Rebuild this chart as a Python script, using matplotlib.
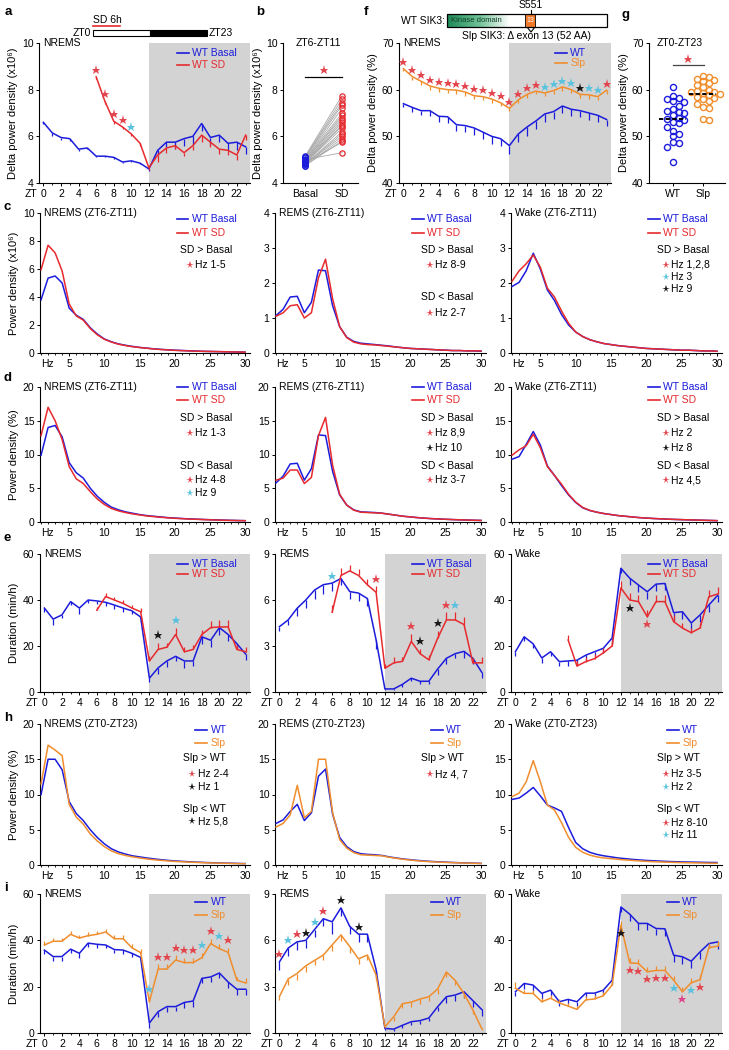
"""
Multi-panel sleep figure: delta power, EEG spectra and sleep/wake duration
for WT basal vs sleep deprivation and WT vs Sleepy (Slp) SIK3 mice.
Output: out.png
"""
import matplotlib
matplotlib.use("Agg")
import matplotlib.pyplot as plt
import matplotlib.patches as mpatches
from matplotlib.colors import LinearSegmentedColormap
import numpy as np

plt.rcParams["font.family"] = ["Liberation Sans Narrow", "Liberation Sans", "DejaVu Sans"]
plt.rcParams["font.size"] = 7.5
plt.rcParams["axes.linewidth"] = 0.8

# ── Palette ──────────────────────────────────────────────────────────
BLUE = "#1c1cdc"
RED = "#e62a2e"
ORANGE = "#f08d2c"
SHADE = "#d3d3d3"
STAR = {"R": "#e2474f", "C": "#5bc2de", "K": "#1a1a1a", "P": "#e0468c"}

# ── Data ─────────────────────────────────────────────────────────────
ZT = list(range(24))
ZT_SD = list(range(6, 24))
HZ = list(range(1, 31))

# a: NREMS delta power (x10^6)
a_basal = [6.6, 6.15, 5.95, 5.9, 5.45, 5.5, 5.15, 5.15, 5.1, 4.9, 4.95, 4.85,
           4.6, 5.4, 5.75, 5.75, 5.9, 6.0, 6.55, 5.95, 6.05, 5.7, 5.75, 5.55]
a_basal_err = [0.05, 0.15, 0.1, 0.1, 0.08, 0.05, 0.05, 0.05, 0.05, 0.05, 0.05, 0.05,
               0.08, 0.2, 0.2, 0.3, 0.3, 0.35, 0.3, 0.3, 0.3, 0.3, 0.35, 0.3]
a_sd = [8.55, 7.5, 6.65, 6.4, 6.1, 5.7, 4.65, 5.2, 5.5, 5.6, 5.3, 5.6,
        6.05, 5.75, 5.45, 5.4, 5.2, 6.05]
a_sd_err = [0.1, 0.1, 0.1, 0.1, 0.1, 0.1, 0.1, 0.3, 0.2, 0.15, 0.15, 0.2,
            0.3, 0.2, 0.2, 0.2, 0.2, 0.2]
a_star_zt = [6, 7, 8, 9, 10]
a_star_col = ["R", "R", "R", "R", "C"]

# b: ZT6-ZT11 delta power per mouse
b_basal = [5.15, 5.1, 5.1, 5.05, 5.0, 5.0, 4.95, 4.95, 4.9, 4.9,
           4.85, 4.85, 4.8, 4.8, 4.8, 4.75, 4.75, 4.85, 5.0, 4.9]
b_sd = [7.75, 7.6, 7.45, 7.35, 7.2, 7.0, 6.9, 6.8, 6.7, 6.6,
        6.5, 6.35, 6.2, 6.1, 6.0, 5.9, 5.8, 5.75, 5.3, 6.45]

# f: NREMS delta power (%) WT vs Slp
f_wt = [57.0, 56.2, 55.5, 55.5, 54.3, 54.2, 52.5, 52.3, 51.8, 50.9, 50.0, 49.5,
        48.0, 50.5, 52.0, 53.3, 54.8, 55.3, 56.5, 55.8, 55.5, 55.0, 54.5, 53.6]
f_wt_err = [0.8, 1.0, 1.0, 1.2, 1.2, 1.3, 1.4, 1.4, 1.5, 1.5, 1.6, 1.6,
            1.8, 1.8, 1.9, 1.8, 1.8, 1.5, 1.5, 1.4, 1.4, 1.4, 1.4, 1.3]
f_slp = [64.5, 62.8, 61.8, 60.8, 60.3, 60.0, 59.9, 59.5, 58.7, 58.5, 58.0, 57.2,
         56.0, 57.8, 59.0, 59.7, 59.3, 59.8, 60.6, 60.0, 59.0, 58.9, 58.5, 59.9]
f_slp_err = [0.6, 0.7, 0.7, 0.8, 0.8, 0.8, 0.8, 0.8, 0.8, 0.8, 0.8, 0.8,
             0.6, 0.7, 0.7, 0.7, 0.7, 0.7, 0.8, 0.8, 0.8, 0.8, 0.8, 0.8]
f_star_col = ["R"] * 16 + ["C", "C", "C", "C", "K", "C", "C", "R"]

# g: ZT0-ZT23 delta power per mouse
g_wt = [60.5, 58.7, 58.3, 58.0, 57.5, 57.3, 56.5, 55.8, 55.5, 55.3, 55.0, 54.5, 54.0,
        53.8, 53.5, 53.0, 52.8, 52.0, 51.2, 50.5, 50.0, 48.8, 48.5, 47.8, 44.5]
g_slp = [63.0, 62.8, 62.3, 62.0, 61.8, 61.5, 61.0, 60.5, 60.0, 59.8, 59.5, 59.5,
         59.3, 59.0, 58.8, 58.5, 58.3, 58.0, 57.5, 57.0, 56.3, 56.0, 53.7, 53.5]

# c: power density (x10^6), ZT6-ZT11
c_nrems_basal = [3.8, 5.35, 5.5, 5.0, 3.2, 2.7, 2.4, 1.8, 1.35, 1.0, 0.8, 0.65, 0.55, 0.47, 0.4,
                 0.35, 0.3, 0.26, 0.23, 0.2, 0.18, 0.16, 0.14, 0.12, 0.11, 0.1, 0.09, 0.08, 0.07, 0.06]
c_nrems_sd = [5.95, 7.7, 7.15, 5.85, 3.5, 2.65, 2.35, 1.75, 1.3, 0.98, 0.78, 0.63, 0.53, 0.45, 0.39,
              0.34, 0.29, 0.25, 0.22, 0.19, 0.17, 0.15, 0.13, 0.12, 0.11, 0.1, 0.09, 0.08, 0.07, 0.06]
c_rems_basal = [1.07, 1.25, 1.6, 1.62, 1.15, 1.45, 2.37, 2.35, 1.35, 0.75, 0.45, 0.33, 0.28, 0.26, 0.24,
                0.22, 0.2, 0.17, 0.15, 0.13, 0.12, 0.11, 0.1, 0.09, 0.08, 0.07, 0.07, 0.06, 0.06, 0.05]
c_rems_sd = [1.05, 1.15, 1.35, 1.38, 1.0, 1.15, 2.15, 2.68, 1.55, 0.75, 0.44, 0.31, 0.26, 0.24, 0.23,
             0.21, 0.19, 0.17, 0.15, 0.13, 0.12, 0.11, 0.1, 0.09, 0.08, 0.07, 0.07, 0.06, 0.06, 0.06]
c_wake_basal = [1.9, 2.02, 2.35, 2.85, 2.4, 1.8, 1.5, 1.1, 0.8, 0.6, 0.47, 0.38, 0.32, 0.27, 0.24,
                0.21, 0.19, 0.17, 0.15, 0.13, 0.12, 0.11, 0.1, 0.09, 0.08, 0.08, 0.07, 0.06, 0.06, 0.05]
c_wake_sd = [2.05, 2.35, 2.55, 2.8, 2.45, 1.85, 1.6, 1.2, 0.85, 0.6, 0.47, 0.38, 0.32, 0.27, 0.24,
             0.21, 0.19, 0.17, 0.15, 0.13, 0.12, 0.11, 0.1, 0.09, 0.08, 0.08, 0.07, 0.06, 0.06, 0.05]

# d: power density (%), ZT6-ZT11
d_nrems_basal = [9.9, 14.0, 14.3, 12.6, 8.8, 7.3, 6.5, 5.0, 3.8, 2.9, 2.2, 1.8, 1.5, 1.3, 1.1,
                 0.95, 0.85, 0.75, 0.65, 0.58, 0.52, 0.46, 0.42, 0.38, 0.34, 0.31, 0.28, 0.25, 0.22, 0.2]
d_nrems_sd = [12.8, 17.0, 15.0, 12.2, 8.2, 6.4, 5.7, 4.5, 3.4, 2.6, 2.0, 1.65, 1.4, 1.2, 1.05,
              0.9, 0.8, 0.7, 0.62, 0.55, 0.5, 0.44, 0.4, 0.36, 0.32, 0.29, 0.26, 0.23, 0.21, 0.19]
d_rems_basal = [5.8, 6.8, 8.6, 8.7, 6.2, 7.9, 12.9, 12.8, 7.5, 4.0, 2.5, 1.8, 1.5, 1.45, 1.4,
                1.3, 1.15, 1.0, 0.85, 0.75, 0.65, 0.57, 0.5, 0.45, 0.4, 0.36, 0.32, 0.29, 0.26, 0.23]
d_rems_sd = [6.2, 6.5, 7.7, 7.7, 5.7, 6.6, 12.8, 15.5, 8.4, 4.1, 2.5, 1.75, 1.45, 1.4, 1.35,
             1.3, 1.15, 1.0, 0.85, 0.75, 0.65, 0.57, 0.5, 0.45, 0.4, 0.36, 0.32, 0.29, 0.26, 0.23]
d_wake_basal = [9.3, 9.7, 11.5, 13.4, 11.4, 8.3, 6.9, 5.4, 4.0, 2.9, 2.1, 1.7, 1.45, 1.25, 1.1,
                0.95, 0.85, 0.75, 0.65, 0.58, 0.52, 0.47, 0.42, 0.38, 0.35, 0.32, 0.29, 0.26, 0.23, 0.2]
d_wake_sd = [9.9, 10.7, 11.3, 13.0, 11.0, 8.2, 6.9, 5.6, 4.1, 2.95, 2.15, 1.72, 1.45, 1.25, 1.1,
             0.95, 0.85, 0.75, 0.65, 0.58, 0.52, 0.47, 0.42, 0.38, 0.35, 0.32, 0.29, 0.26, 0.23, 0.2]

# e: duration (min/h), WT basal vs SD
e_nrems_basal = [36.5, 31.7, 33.5, 39.3, 36.5, 40.0, 39.6, 39.0, 37.8, 36.5, 35.3, 32.6,
                 6.0, 10.5, 13.5, 15.5, 13.5, 13.5, 24.0, 22.5, 28.0, 25.0, 21.0, 16.5]
e_nrems_basal_err = [1.5, 2.5, 1.5, 1.5, 2.5, 1.5, 1.5, 1.5, 1.5, 1.5, 1.5, 2.0,
                     1.5, 2.5, 2.5, 2.0, 3.0, 2.0, 3.0, 3.0, 3.0, 3.0, 2.5, 2.5]
e_nrems_sd = [35.6, 41.5, 40.0, 38.5, 36.5, 34.9, 13.5, 18.5, 19.5, 25.0, 17.5, 18.5,
              25.0, 28.0, 28.3, 28.3, 18.5, 17.5]
e_nrems_sd_err = [1.5, 1.5, 1.5, 1.5, 1.5, 1.5, 2.0, 3.0, 2.0, 3.0, 2.0, 2.0,
                  2.0, 3.0, 3.0, 3.0, 2.0, 2.0]
e_nrems_star_zt = [13, 15]
e_nrems_star_col = ["K", "C"]

e_rems_basal = [4.26, 4.7, 5.45, 6.0, 6.65, 7.0, 7.1, 7.4, 6.55, 6.45, 6.1, 3.4,
                0.2, 0.2, 0.5, 0.9, 0.7, 0.7, 1.5, 2.2, 2.5, 2.65, 2.2, 1.3]
e_rems_basal_err = [0.3, 0.3, 0.5, 0.5, 0.6, 0.6, 0.5, 0.4, 0.5, 0.5, 0.5, 0.6,
                    0.1, 0.1, 0.2, 0.2, 0.2, 0.2, 0.4, 0.4, 0.3, 0.4, 0.4, 0.4]
e_rems_sd = [5.2, 7.6, 7.9, 7.6, 7.0, 6.5, 1.55, 1.9, 2.0, 3.3, 2.5, 2.1,
             3.5, 4.7, 4.7, 4.4, 1.9, 1.9]
e_rems_sd_err = [0.5, 0.5, 0.4, 0.4, 0.4, 0.4, 0.3, 0.4, 0.3, 0.5, 0.3, 0.3,
                 0.5, 0.5, 0.5, 0.5, 0.3, 0.4]
e_rems_star_zt = [6, 11, 15, 16, 18, 19, 20]
e_rems_star_col = ["C", "R", "R", "K", "K", "R", "C"]

e_wake_basal = [17.5, 24.0, 21.0, 14.8, 17.5, 13.2, 13.5, 13.8, 16.0, 17.5, 19.0, 23.5,
                53.8, 49.5, 46.5, 43.6, 46.9, 47.2, 34.5, 34.9, 30.0, 33.5, 37.8, 42.0]
e_wake_basal_err = [2.0, 2.0, 2.0, 2.0, 2.0, 2.0, 2.0, 2.0, 2.0, 2.0, 2.0, 2.5,
                    2.0, 3.0, 3.0, 3.0, 3.0, 3.0, 3.0, 3.0, 3.0, 3.0, 3.0, 3.0]
e_wake_sd = [22.6, 11.3, 13.2, 14.5, 17.0, 20.0, 45.2, 40.0, 39.3, 32.7, 39.3, 39.3,
             30.6, 27.8, 25.8, 27.8, 41.4, 42.6]
e_wake_sd_err = [2.0, 2.0, 2.0, 2.0, 2.0, 2.0, 3.0, 3.0, 3.0, 3.0, 3.0, 3.0,
                 3.0, 2.0, 2.0, 2.0, 3.0, 3.0]
e_wake_star_zt = [13, 15]
e_wake_star_col = ["K", "R"]

# h: power density (%), ZT0-ZT23, WT vs Slp
h_nrems_wt = [10.0, 15.0, 15.0, 13.5, 9.0, 7.3, 6.3, 5.0, 3.9, 3.0, 2.3, 1.85, 1.55, 1.3, 1.15,
              1.0, 0.87, 0.76, 0.66, 0.58, 0.52, 0.46, 0.41, 0.37, 0.33, 0.3, 0.27, 0.25, 0.22, 0.2]
h_nrems_slp = [11.5, 17.0, 16.3, 15.5, 8.6, 6.8, 5.8, 4.4, 3.4, 2.6, 2.0, 1.6, 1.35, 1.15, 1.0,
               0.86, 0.75, 0.66, 0.58, 0.51, 0.46, 0.41, 0.37, 0.33, 0.3, 0.27, 0.25, 0.22, 0.2, 0.18]
h_rems_wt = [5.9, 6.4, 7.6, 8.6, 6.3, 7.4, 12.6, 13.6, 7.2, 3.9, 2.6, 1.9, 1.6, 1.5, 1.45,
             1.35, 1.15, 1.0, 0.85, 0.75, 0.65, 0.57, 0.5, 0.45, 0.4, 0.36, 0.32, 0.29, 0.26, 0.23]
h_rems_slp = [5.4, 5.9, 7.1, 11.3, 6.7, 7.6, 15.0, 15.0, 7.4, 3.6, 2.4, 1.75, 1.45, 1.4, 1.35,
              1.3, 1.1, 0.95, 0.8, 0.7, 0.6, 0.52, 0.46, 0.41, 0.37, 0.33, 0.3, 0.27, 0.24, 0.21]
h_wake_wt = [9.3, 9.5, 10.2, 11.0, 9.8, 8.5, 8.1, 7.6, 5.3, 3.2, 2.3, 1.8, 1.5, 1.3, 1.15,
             1.0, 0.9, 0.8, 0.72, 0.65, 0.6, 0.55, 0.5, 0.47, 0.44, 0.42, 0.4, 0.38, 0.36, 0.35]
h_wake_slp = [9.7, 10.2, 11.8, 14.8, 11.8, 8.5, 7.8, 6.0, 3.9, 2.5, 1.8, 1.4, 1.15, 1.0, 0.9,
              0.8, 0.72, 0.65, 0.58, 0.52, 0.47, 0.43, 0.4, 0.37, 0.34, 0.32, 0.3, 0.28, 0.26, 0.25]

# i: duration (min/h), WT vs Slp
i_nrems_wt = [35.8, 33.0, 33.0, 36.2, 34.4, 38.8, 38.3, 38.0, 36.0, 35.8, 34.4, 32.6,
              4.3, 9.2, 11.4, 11.4, 13.2, 13.8, 23.6, 24.2, 25.9, 22.0, 18.9, 18.9]
i_nrems_wt_err = [1.5, 2.0, 2.0, 1.5, 2.0, 1.5, 1.5, 1.5, 1.5, 1.5, 1.5, 1.5,
                  2.0, 2.5, 2.5, 2.0, 2.5, 2.5, 2.0, 2.0, 2.0, 2.5, 2.5, 2.5]
i_nrems_slp = [38.0, 39.6, 39.6, 42.6, 41.0, 42.0, 42.6, 43.6, 40.7, 40.7, 36.8, 34.7,
               13.5, 27.6, 27.6, 31.5, 30.4, 30.4, 32.5, 38.6, 36.4, 34.8, 22.8, 21.6]
i_nrems_slp_err = [1.5, 1.5, 1.5, 1.5, 1.5, 1.5, 1.5, 1.5, 1.5, 1.5, 1.5, 1.5,
                   2.0, 2.0, 2.0, 2.0, 2.0, 2.0, 2.0, 2.0, 2.0, 2.0, 1.5, 2.0]
i_nrems_star_zt = [12, 13, 14, 15, 16, 17, 18, 19, 20, 21]
i_nrems_star_col = ["C", "R", "R", "R", "R", "R", "C", "R", "C", "R"]

i_rems_wt = [4.6, 5.5, 5.9, 6.0, 6.7, 7.4, 7.2, 8.1, 6.9, 6.4, 6.4, 4.1,
             0.3, 0.25, 0.5, 0.73, 0.8, 0.97, 1.7, 2.35, 2.46, 2.67, 2.1, 1.53]
i_rems_wt_err = [0.5, 0.5, 0.5, 0.5, 0.5, 0.5, 0.8, 0.5, 0.5, 0.5, 0.5, 0.5,
                 0.1, 0.1, 0.2, 0.2, 0.2, 0.2, 0.3, 0.4, 0.4, 0.4, 0.4, 0.4]
i_rems_slp = [2.35, 3.5, 3.85, 4.35, 4.7, 5.05, 5.7, 6.35, 5.6, 4.8, 5.05, 3.75,
              0.4, 1.05, 1.9, 2.0, 2.2, 2.35, 2.85, 3.95, 3.4, 2.55, 1.5, 0.3]
i_rems_slp_err = [0.2, 0.4, 0.4, 0.4, 0.3, 0.3, 0.4, 0.4, 0.4, 0.3, 0.3, 0.3,
                  0.1, 0.3, 0.3, 0.3, 0.3, 0.3, 0.3, 0.3, 0.3, 0.3, 0.3, 0.1]
i_rems_star_zt = [0, 1, 2, 3, 4, 5, 7, 9]
i_rems_star_col = ["R", "C", "R", "K", "C", "R", "K", "K"]

i_wake_wt = [17.8, 21.4, 20.7, 17.1, 18.5, 13.5, 14.5, 13.5, 17.2, 17.2, 18.5, 22.8,
             54.4, 51.3, 47.3, 47.3, 45.1, 45.0, 33.6, 32.9, 31.0, 35.0, 38.6, 39.3]
i_wake_wt_err = [2.0, 2.5, 2.5, 2.5, 2.5, 2.0, 2.0, 2.0, 2.0, 2.0, 2.0, 2.0,
                 2.0, 3.0, 3.0, 3.0, 3.0, 3.0, 3.0, 3.0, 3.0, 3.0, 2.0, 3.0]
i_wake_slp = [19.3, 17.1, 17.1, 13.5, 15.0, 13.0, 11.6, 10.2, 14.3, 14.7, 16.1, 20.7,
              46.5, 30.3, 30.0, 26.4, 27.0, 27.0, 22.8, 17.8, 21.7, 23.0, 36.8, 37.5]
i_wake_slp_err = [2.5, 1.5, 1.5, 1.5, 1.5, 1.5, 1.5, 1.5, 1.5, 1.5, 1.5, 1.5,
                  2.0, 2.0, 2.0, 2.0, 2.0, 2.0, 2.0, 2.0, 2.0, 2.0, 2.0, 2.0]
i_wake_star_zt = [12, 13, 14, 15, 16, 17, 18, 19, 20, 21]
i_wake_star_col = ["K", "R", "R", "R", "R", "R", "C", "P", "C", "R"]

# ── Layout (pixels of a 729 x 1050 canvas) ───────────────────────────
W, H = 729, 1050
fig = plt.figure(figsize=(W / 100, H / 100), dpi=100)
fig.patch.set_facecolor("white")

COLS = [(40, 250), (275, 486), (511, 722)]
ROWS = {"c": (213, 353), "d": (387, 522), "e": (554, 692), "h": (724, 865), "i": (894, 1033)}
STAR_MS = 6.5


def axes_px(x0, x1, y0, y1):
    return fig.add_axes([x0 / W, 1 - y1 / H, (x1 - x0) / W, (y1 - y0) / H])


def style(ax, ylim, yticks):
    for s in ("top", "right"):
        ax.spines[s].set_visible(False)
    ax.set_ylim(*ylim)
    ax.set_yticks(yticks)
    ax.tick_params(labelsize=7.5, length=2.5, width=0.7, pad=1.5)
    ax.tick_params(which="minor", length=1.6, width=0.6)
    ax.set_facecolor("none")


def zt_axis(ax):
    ax.set_xlim(-0.5, 23.5)
    ax.set_xticks(range(0, 24, 2))
    ax.set_xticks(range(1, 24, 2), minor=True)
    ax.axvspan(12, 23.5, color=SHADE, lw=0, zorder=0)
    ax.annotate("ZT", xy=(-0.7, 0), xycoords=("data", "axes fraction"),
                xytext=(0, -4), textcoords="offset points",
                ha="right", va="top", fontsize=7.5)


def hz_axis(ax):
    ax.set_xlim(0.85, 30.7)
    ax.set_xticks(range(5, 31, 5))
    ax.set_xticks(HZ, minor=True)
    ax.annotate("Hz", xy=(1.0, 0), xycoords=("data", "axes fraction"),
                xytext=(0, -4), textcoords="offset points",
                ha="left", va="top", fontsize=7.5)


def title(ax, text, x=0.02, ha="left"):
    ax.text(x, 1.0, text, transform=ax.transAxes, ha=ha, va="center", fontsize=7.5)


def legend(ax, x, y, dy, items):
    for k, (lab, col) in enumerate(items):
        yy = y - k * dy
        ax.plot([x, x + 0.055], [yy, yy], color=col, lw=1.2,
                transform=ax.transAxes, clip_on=False)
        ax.text(x + 0.072, yy, lab, color=col, transform=ax.transAxes,
                ha="left", va="center", fontsize=7.5)


def notes(ax, x, items):
    for y, text, code in items:
        if code is None:
            ax.text(x, y, text, transform=ax.transAxes, ha="left", va="center", fontsize=7.5)
        else:
            ax.plot([x + 0.045], [y], marker="*", ms=5.5, mew=0, color=STAR[code],
                    transform=ax.transAxes, clip_on=False)
            ax.text(x + 0.07, y, text, transform=ax.transAxes, ha="left", va="center",
                    fontsize=7.5)


def series(ax, x, y, err, color, up=False):
    y = np.asarray(y, float)
    e = np.asarray(err, float)
    ax.plot(x, y, color=color, lw=1.1, zorder=3)
    ax.vlines(x, y, y + e if up else y - e, color=color, lw=0.9, zorder=3)
    return (list(x), y, e, up)


def star_marks(ax, zts, codes, tracks, side="above", frac=0.055):
    lo_lim, hi_lim = ax.get_ylim()
    pad = frac * (hi_lim - lo_lim)
    for zt, code in zip(zts, codes):
        hi, lo = [], []
        for x, y, e, up in tracks:
            if zt in x:
                j = x.index(zt)
                hi.append(y[j] + (e[j] if up else 0))
                lo.append(y[j] - (0 if up else e[j]))
        yy = max(hi) + pad if side == "above" else min(lo) - pad
        ax.plot(zt, yy, marker="*", ms=STAR_MS, mew=0, color=STAR[code], zorder=5, clip_on=False)


def swarm(vals, width, dy):
    vals = np.asarray(vals, float)
    offs = np.zeros(len(vals))
    placed = []
    cands = [0.0]
    for k in range(1, 12):
        cands += [k * width, -k * width]
    for i in np.argsort(vals)[::-1]:
        for o in cands:
            if all(abs(o - po) >= width * 0.95 or abs(vals[i] - pv) >= dy for po, pv in placed):
                break
        offs[i] = o
        placed.append((o, vals[i]))
    return offs


# ── a: NREMS delta power, basal vs SD ────────────────────────────────
ax = axes_px(39, 250, 43, 183)
style(ax, (4, 10), [4, 6, 8, 10])
zt_axis(ax)
t1 = series(ax, ZT, a_basal, a_basal_err, BLUE)
t2 = series(ax, ZT_SD, a_sd, a_sd_err, RED)
star_marks(ax, a_star_zt, a_star_col, [t1, t2], frac=0.05)
title(ax, "NREMS")
legend(ax, 0.655, 0.93, 0.09, [("WT Basal", BLUE), ("WT SD", RED)])
ax.set_ylabel("Delta power density (x10⁶)", fontsize=8, labelpad=3)

# ── b: per-mouse delta, ZT6-ZT11 ─────────────────────────────────────
ax = axes_px(283, 358, 43, 183)
style(ax, (4, 10), [4, 6, 8, 10])
ax.set_xlim(-0.6, 1.43)
ax.set_xticks([0, 1])
ax.set_xticklabels(["Basal", "SD"])
for v0, v1 in zip(b_basal, b_sd):
    ax.plot([0, 1], [v0, v1], color="#a8a8a8", lw=0.6, zorder=2)
ax.plot(np.zeros(len(b_basal)), b_basal, "o", ms=3.8, mfc="none", mec=BLUE, mew=0.9, zorder=3)
ax.plot(np.ones(len(b_sd)), b_sd, "o", ms=3.8, mfc="none", mec=RED, mew=0.9, zorder=3)
ax.plot([0, 1], [8.55, 8.55], color="black", lw=0.9)
ax.plot(0.5, 8.85, marker="*", ms=STAR_MS, mew=0, color=STAR["R"])
title(ax, "ZT6-ZT11", x=0.47, ha="center")
ax.set_ylabel("Delta power density (x10⁶)", fontsize=8, labelpad=2)

# ── f: NREMS delta power WT vs Slp ───────────────────────────────────
ax = axes_px(399, 611, 43, 183)
style(ax, (40, 70), [40, 50, 60, 70])
zt_axis(ax)
t1 = series(ax, ZT, f_wt, f_wt_err, BLUE)
t2 = series(ax, ZT, f_slp, f_slp_err, ORANGE)
star_marks(ax, ZT, f_star_col, [t1, t2], frac=0.045)
title(ax, "NREMS")
legend(ax, 0.736, 0.93, 0.075, [("WT", BLUE), ("Slp", ORANGE)])
ax.set_ylabel("Delta power density (%)", fontsize=8, labelpad=3)

# ── g: per-mouse delta, ZT0-ZT23 ─────────────────────────────────────
ax = axes_px(649, 725, 43, 183)
style(ax, (40, 70), [40, 50, 60, 70])
ax.set_xlim(-0.8, 1.74)
ax.set_xticks([0, 1])
ax.set_xticklabels(["WT", "Slp"])
for pos, vals, col in ((0, g_wt, BLUE), (1, g_slp, ORANGE)):
    offs = swarm(vals, 0.19, 1.2)
    ax.plot(pos + offs, vals, "o", ms=4.4, mfc="none", mec=col, mew=1.0, zorder=3)
    m = float(np.mean(vals))
    ax.plot([pos - 0.45, pos + 0.45], [m, m], color="black", lw=1.4, ls=(0, (2.2, 1.2)), zorder=4)
ax.plot([0, 1.05], [65.3, 65.3], color="#444444", lw=0.9)
ax.plot(0.52, 66.6, marker="*", ms=STAR_MS, mew=0, color=STAR["R"])
title(ax, "ZT0-ZT23", x=0.4, ha="center")
ax.set_ylabel("Delta power density (%)", fontsize=8, labelpad=2)

# ── c, d, h: spectra ─────────────────────────────────────────────────
SPEC = {
    "c": dict(ylim=(0, 10), yticks=[0, 2, 4, 6, 8, 10], ylim2=(0, 4), yticks2=[0, 1, 2, 3, 4],
              ylabel="Power density (x10⁶)", sub="(ZT6-ZT11)",
              data=[(c_nrems_basal, c_nrems_sd), (c_rems_basal, c_rems_sd), (c_wake_basal, c_wake_sd)],
              colors=(BLUE, RED), labels=("WT Basal", "WT SD"), leg=(0.65, 0.96, 0.10)),
    "d": dict(ylim=(0, 20), yticks=[0, 5, 10, 15, 20], ylim2=(0, 20), yticks2=[0, 5, 10, 15, 20],
              ylabel="Power density (%)", sub="(ZT6-ZT11)",
              data=[(d_nrems_basal, d_nrems_sd), (d_rems_basal, d_rems_sd), (d_wake_basal, d_wake_sd)],
              colors=(BLUE, RED), labels=("WT Basal", "WT SD"), leg=(0.65, 1.0, 0.095)),
    "h": dict(ylim=(0, 20), yticks=[0, 5, 10, 15, 20], ylim2=(0, 20), yticks2=[0, 5, 10, 15, 20],
              ylabel="Power density (%)", sub="(ZT0-ZT23)",
              data=[(h_nrems_wt, h_nrems_slp), (h_rems_wt, h_rems_slp), (h_wake_wt, h_wake_slp)],
              colors=(BLUE, ORANGE), labels=("WT", "Slp"), leg=(0.74, 0.957, 0.092)),
}
SPEC_NOTES = {
    "c": [(0.667, [(0.736, "SD > Basal", None), (0.63, "Hz 1-5", "R")]),
          (0.69, [(0.736, "SD > Basal", None), (0.63, "Hz 8-9", "R"),
                  (0.40, "SD < Basal", None), (0.286, "Hz 2-7", "R")]),
          (0.69, [(0.736, "SD > Basal", None), (0.63, "Hz 1,2,8", "R"),
                  (0.54, "Hz 3", "C"), (0.457, "Hz 9", "K")])],
    "d": [(0.667, [(0.77, "SD > Basal", None), (0.66, "Hz 1-3", "R"),
                   (0.415, "SD < Basal", None), (0.31, "Hz 4-8", "R"), (0.215, "Hz 9", "C")]),
          (0.69, [(0.77, "SD > Basal", None), (0.66, "Hz 8,9", "R"), (0.55, "Hz 10", "K"),
                  (0.415, "SD < Basal", None), (0.31, "Hz 3-7", "R")]),
          (0.69, [(0.77, "SD > Basal", None), (0.66, "Hz 2", "R"), (0.55, "Hz 8", "K"),
                  (0.415, "SD < Basal", None), (0.31, "Hz 4,5", "R")])],
    "h": [(0.68, [(0.76, "Slp > WT", None), (0.645, "Hz 2-4", "R"), (0.55, "Hz 1", "K"),
                  (0.40, "Slp < WT", None), (0.31, "Hz 5,8", "K")]),
          (0.69, [(0.76, "Slp > WT", None), (0.645, "Hz 4, 7", "R")]),
          (0.69, [(0.76, "Slp > WT", None), (0.645, "Hz 3-5", "R"), (0.55, "Hz 2", "C"),
                  (0.40, "Slp < WT", None), (0.30, "Hz 8-10", "R"), (0.21, "Hz 11", "C")])],
}
STATES = ["NREMS", "REMS", "Wake"]

for key, spec in SPEC.items():
    y0, y1 = ROWS[key]
    for col, (x0, x1) in enumerate(COLS):
        ax = axes_px(x0, x1, y0, y1)
        if col == 0:
            style(ax, spec["ylim"], spec["yticks"])
            ax.set_ylabel(spec["ylabel"], fontsize=8, labelpad=3)
        else:
            style(ax, spec["ylim2"], spec["yticks2"])
        hz_axis(ax)
        s1, s2 = spec["data"][col]
        ax.plot(HZ, s1, color=spec["colors"][0], lw=1.1, zorder=3)
        ax.plot(HZ, s2, color=spec["colors"][1], lw=1.1, zorder=3)
        title(ax, f"{STATES[col]} {spec['sub']}")
        lx, ly, ldy = spec["leg"]
        legend(ax, lx, ly, ldy, list(zip(spec["labels"], spec["colors"])))
        nx, items = SPEC_NOTES[key][col]
        notes(ax, nx, items)

# ── e, i: duration ───────────────────────────────────────────────────
DUR = {
    "e": [(e_nrems_basal, e_nrems_basal_err, e_nrems_sd, e_nrems_sd_err,
           e_nrems_star_zt, e_nrems_star_col, "above"),
          (e_rems_basal, e_rems_basal_err, e_rems_sd, e_rems_sd_err,
           e_rems_star_zt, e_rems_star_col, "above"),
          (e_wake_basal, e_wake_basal_err, e_wake_sd, e_wake_sd_err,
           e_wake_star_zt, e_wake_star_col, "below")],
    "i": [(i_nrems_wt, i_nrems_wt_err, i_nrems_slp, i_nrems_slp_err,
           i_nrems_star_zt, i_nrems_star_col, "above"),
          (i_rems_wt, i_rems_wt_err, i_rems_slp, i_rems_slp_err,
           i_rems_star_zt, i_rems_star_col, "above"),
          (i_wake_wt, i_wake_wt_err, i_wake_slp, i_wake_slp_err,
           i_wake_star_zt, i_wake_star_col, "below")],
}
SECOND_UP = {"e": [True, True, True], "i": [True, False, True]}

for key, panels in DUR.items():
    y0, y1 = ROWS[key]
    for col, (x0, x1) in enumerate(COLS):
        ax = axes_px(x0, x1, y0, y1)
        if col == 1:
            style(ax, (0, 9), [0, 3, 6, 9])
        else:
            style(ax, (0, 60), [0, 20, 40, 60])
        if col == 0:
            ax.set_ylabel("Duration (min/h)", fontsize=8, labelpad=3)
        zt_axis(ax)
        v1, e1, v2, e2, szt, scol, side = panels[col]
        t1 = series(ax, ZT, v1, e1, BLUE)
        if key == "e":
            t2 = series(ax, ZT_SD, v2, e2, RED, up=SECOND_UP[key][col])
        else:
            t2 = series(ax, ZT, v2, e2, ORANGE, up=SECOND_UP[key][col])
        star_marks(ax, szt, scol, [t1, t2], side=side)
        title(ax, STATES[col])
        if key == "e":
            legend(ax, 0.65, 0.93, 0.075, [("WT Basal", BLUE), ("WT SD", RED)])
        else:
            legend(ax, 0.74, 0.94, 0.09, [("WT", BLUE), ("Slp", ORANGE)])

# ── Overlay: panel letters, light/dark bar, SIK3 schematic ───────────
ov = fig.add_axes([0, 0, 1, 1])
ov.axis("off")
ov.patch.set_alpha(0)

for letter, (lx, ly) in {"a": (5, 12), "b": (256, 12), "f": (364, 12), "g": (622, 15),
                         "c": (4, 207), "d": (4, 378), "e": (4, 538),
                         "h": (4, 718), "i": (4, 888)}.items():
    ov.text(lx, ly, letter, fontsize=9.5, fontweight="bold", ha="left", va="center")

# light/dark bar above panel a
ov.text(91, 33, "ZT0", ha="right", va="center", fontsize=7.5)
ov.add_patch(mpatches.Rectangle((93, 30), 57, 6, facecolor="white", edgecolor="black", lw=0.8))
ov.add_patch(mpatches.Rectangle((150, 30), 57, 6, facecolor="black", edgecolor="black", lw=0.8))
ov.text(209, 33, "ZT23", ha="left", va="center", fontsize=7.5)
ov.text(93, 20, "SD 6h", ha="left", va="center", fontsize=7.5)
ov.plot([93, 120], [25.5, 25.5], color=RED, lw=1.2)

# SIK3 schematic above panel f
ov.text(445, 20.5, "WT SIK3:", ha="right", va="center", fontsize=7.5)
kin = LinearSegmentedColormap.from_list("kin", ["#1e8a58", "#6cbf93", "#ffffff"])
ov.imshow(np.linspace(0, 1, 120)[None, :], cmap=kin, extent=(447, 510, 27, 14),
          aspect="auto", zorder=1)
ov.text(451, 20.5, "Kinase domain", ha="left", va="center", fontsize=5.5,
        color="#123d28", zorder=3)
ov.add_patch(mpatches.Rectangle((525, 14), 10, 13, facecolor="#f07a2a",
                                edgecolor="black", lw=0.6, zorder=3))
ov.text(530, 20.5, "13", ha="center", va="center", fontsize=5, color="white", zorder=4)
ov.add_patch(mpatches.Rectangle((447, 14), 160, 13, fill=False, edgecolor="black",
                                lw=0.9, zorder=4))
ov.text(531, 5, "S551", ha="center", va="center", fontsize=7.5)
ov.plot([531, 531], [9.5, 14], color="black", lw=0.8)
ov.plot([527, 531, 535], [27, 32, 27], color="black", lw=0.8)
ov.text(527, 36, "Slp SIK3: \u0394 exon 13 (52 AA)", ha="center", va="center", fontsize=7.5)

ov.set_xlim(0, W)
ov.set_ylim(H, 0)

fig.savefig("out.png", dpi=100, facecolor="white")
plt.close(fig)
